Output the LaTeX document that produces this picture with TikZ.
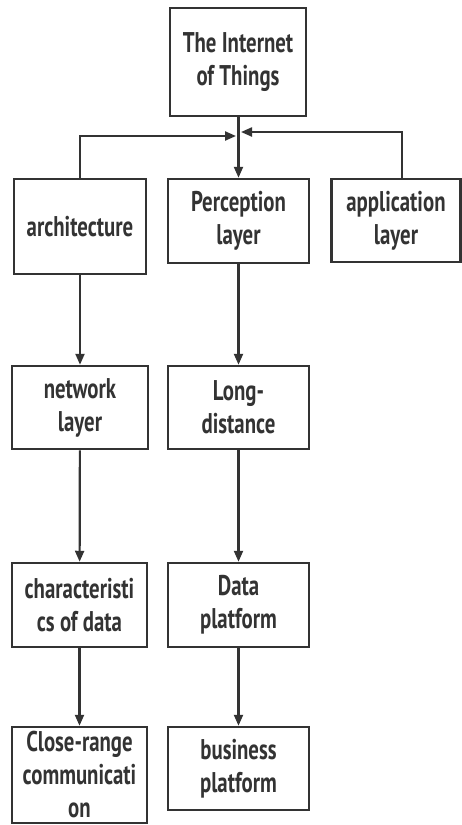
\documentclass[tikz,border=0pt]{standalone}
\usepackage{fontspec}
\setmainfont{PT Sans}[FakeStretch=0.73]
\usetikzlibrary{arrows.meta}
\definecolor{ink}{HTML}{333333}
\tikzset{
  box/.style={draw=ink, line width=2.5pt, text=ink, align=center, inner sep=0pt,
    font=\fontsize{28.5}{33}\selectfont\bfseries},
  conn/.style={draw=ink, line width=2.2pt, -{Triangle[length=11pt,width=9pt]}}
}
\begin{document}
\begin{tikzpicture}[x=1pt,y=-1pt]
\useasboundingbox (0,0) rectangle (462,825);
\node[box, minimum width=136pt, minimum height=108pt] (iot) at (238,62) {The Internet\\of Things};
\node[box, minimum width=132pt, minimum height=95pt] (arch) at (80,226.5) {architecture};
\node[box, minimum width=141pt, minimum height=84pt] (perc) at (238.5,221) {Perception\\layer};
\node[box, minimum width=129pt, minimum height=83pt] (app) at (396,220.5) {application\\layer};
\node[box, minimum width=136pt, minimum height=83pt] (net) at (80,407.5) {network\\layer};
\node[box, minimum width=141pt, minimum height=83pt] (long) at (238.5,407.5) {Long-\\distance};
\node[box, minimum width=135pt, minimum height=84pt] (char) at (79.5,605) {characteristi\\cs of data};
\node[box, minimum width=141pt, minimum height=84pt] (data) at (238.5,605) {Data\\platform};
\node[box, minimum width=135pt, minimum height=96pt] (close) at (79.5,775) {Close-range\\communicati\\on};
\node[box, minimum width=141pt, minimum height=83pt] (bus) at (238.5,768.5) {business\\platform};
\coordinate (jl) at (236,136);
\coordinate (jr) at (241,132);
\draw[conn] (iot.south -| perc.north) -- (perc.north);
\draw[conn] (arch.north) |- (jl);
\draw[conn] ([xshift=6pt]app.north) |- (jr);
\draw[conn] (arch.south) -- (arch.south |- net.north);
\draw[conn] (net) -- (char);
\draw[conn] (char) -- (close);
\draw[conn] (perc) -- (long);
\draw[conn] (long) -- (data);
\draw[conn] (data) -- (bus);
\end{tikzpicture}
\end{document}
